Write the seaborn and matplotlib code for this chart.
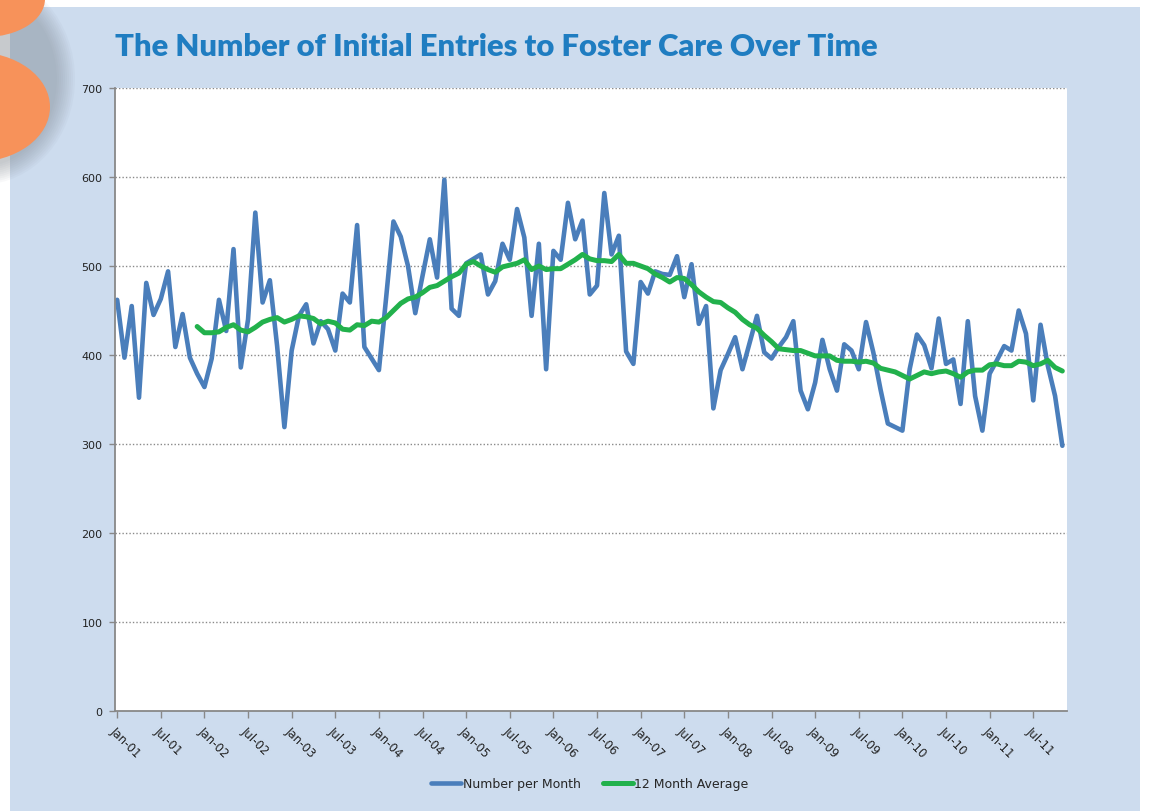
import numpy as np
import pandas as pd
import matplotlib
matplotlib.use('Agg')
import matplotlib.pyplot as plt
import seaborn as sns
from matplotlib.patches import Rectangle, Ellipse

# monthly initial entries, Jan-01 .. Nov-11
per_month = [462, 397, 455, 352, 481, 445, 463, 494, 409, 446, 397, 379,
             364, 396, 462, 427, 519, 386, 440, 560, 459, 484, 410, 319,
             405, 444, 457, 413, 438, 429, 405, 469, 459, 546, 409, 396,
             383, 465, 550, 533, 500, 447, 489, 530, 487, 597, 452, 444,
             503, 508, 513, 468, 483, 525, 507, 564, 532, 444, 525, 384,
             517, 507, 571, 530, 551, 468, 478, 582, 513, 534, 404, 390,
             482, 469, 494, 491, 490, 511, 465, 502, 435, 455, 340, 383,
             401, 420, 384, 414, 444, 403, 396, 409, 420, 438, 360, 339,
             369, 417, 384, 360, 412, 405, 384, 437, 403, 361, 323, 319,
             315, 384, 423, 411, 385, 441, 390, 395, 345, 438, 354, 315,
             379, 394, 410, 405, 450, 424, 349, 434, 388, 354, 298]

# 12 month average, starts at Dec-01 (month index 11)
avg_start = 11
avg_12 = [432, 425, 425, 426, 431, 434, 428, 426, 431, 437, 440, 442,
          437, 440, 444, 443, 441, 435, 438, 436, 429, 428, 434, 433,
          438, 437, 442, 450, 458, 463, 465, 470, 476, 478, 483, 488,
          492, 502, 505, 500, 496, 493, 499, 501, 503, 507, 496, 500,
          496, 497, 497, 502, 507, 513, 508, 506, 506, 505, 513, 503,
          503, 500, 497, 491, 487, 482, 487, 486, 479, 471, 465, 460,
          459, 453, 448, 440, 434, 430, 422, 415, 407, 406, 405, 405,
          402, 399, 399, 399, 394, 393, 393, 392, 393, 391, 385, 383,
          381, 377, 373, 377, 381, 379, 381, 382, 379, 375, 381, 383,
          383, 389, 390, 388, 388, 393, 392, 388, 390, 394, 386, 382]

tick_labels = ['Jan-01', 'Jul-01', 'Jan-02', 'Jul-02', 'Jan-03', 'Jul-03',
               'Jan-04', 'Jul-04', 'Jan-05', 'Jul-05', 'Jan-06', 'Jul-06',
               'Jan-07', 'Jul-07', 'Jan-08', 'Jul-08', 'Jan-09', 'Jul-09',
               'Jan-10', 'Jul-10', 'Jan-11', 'Jul-11']

df_month = pd.DataFrame({'month': np.arange(len(per_month)), 'value': per_month})
df_avg = pd.DataFrame({'month': np.arange(avg_start, avg_start + len(avg_12)), 'value': avg_12})

sns.set_style('white')
plt.rcParams['font.family'] = ['DejaVu Sans']

W, H = 1157, 812
fig = plt.figure(figsize=(W / 100, H / 100), dpi=100, facecolor='white')

# background panel + decoration
bg = fig.add_axes([0, 0, 1, 1], zorder=0)
bg.set_xlim(0, W)
bg.set_ylim(H, 0)
bg.axis('off')
bg.add_patch(Rectangle((10, 8), 1130, 810, color='#CDDCEE', lw=0))
# soft shadow round the badge
for k in range(10):
    bg.add_patch(Ellipse((-18, 80), 150 + 4 * k, 175 + 4 * k, color='#7d858e', alpha=0.05, lw=0))
bg.add_patch(Ellipse((-25, 108), 150, 110, color='#F7925A', lw=0))
bg.add_patch(Ellipse((-15, 0), 120, 76, color='#F7925A', lw=0))

# main plot area
ax = fig.add_axes([115 / W, 1 - 712 / H, (1066.7 - 115) / W, (712 - 89) / H], zorder=2)
ax.set_facecolor('white')

sns.lineplot(data=df_month, x='month', y='value', ax=ax, color='#4A7EBB', lw=3.3,
             label='Number per Month', legend=False)
sns.lineplot(data=df_avg, x='month', y='value', ax=ax, color='#22B14C', lw=3.6,
             label='12 Month Average', legend=False)

ax.set_xlim(-0.3, 130.6)
ax.set_ylim(0, 700)
ax.set_yticks(np.arange(0, 701, 100))
ax.set_xticks(np.arange(0, 6 * len(tick_labels), 6))
ax.set_xticklabels(tick_labels, rotation=-45, ha='left', va='top', rotation_mode='anchor',
                   fontsize=8.5, color='#222222')
ax.tick_params(axis='y', labelsize=8, colors='#222222', length=4, width=1, color='#888888',
               direction='out', left=True, pad=5)
ax.tick_params(axis='x', length=5, width=1, color='#888888', direction='out', bottom=True, pad=4)
ax.set_xlabel('')
ax.set_ylabel('')
ax.grid(False)
for v in np.arange(100, 701, 100):
    ax.axhline(v, color='#8a8a8a', lw=1, ls=(0, (1, 1.5)), zorder=0.5)
for s in ['top', 'right']:
    ax.spines[s].set_visible(False)
for s in ['left', 'bottom']:
    ax.spines[s].set_color('#888888')
    ax.spines[s].set_linewidth(1.3)

fig.text(115 / W, 1 - 47 / H, 'The Number of Initial Entries to Foster Care Over Time',
         fontsize=22.3, fontweight='heavy', color='#1F7DC1', family=['Lato', 'DejaVu Sans'],
         ha='left', va='center')

handles, labels = ax.get_legend_handles_labels()
fig.legend(handles, labels, loc='center', bbox_to_anchor=(590 / W, 1 - 785 / H), ncol=2,
           frameon=False, fontsize=9, handlelength=2.4, handletextpad=0.1, columnspacing=1.8)

fig.savefig('out.png', dpi=100, facecolor='white')
